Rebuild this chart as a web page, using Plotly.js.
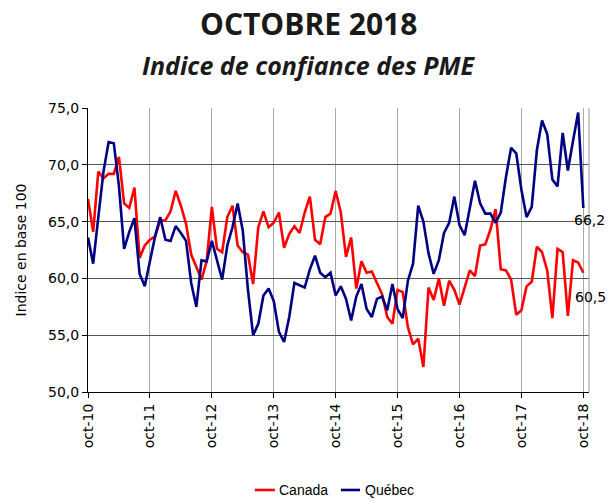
<!DOCTYPE html>
<html><head><meta charset="utf-8">
<script src="https://cdn.plot.ly/plotly-3.0.1.min.js"></script>
<style>html,body{margin:0;padding:0;background:#fff}#chart{width:610px;height:502px}</style>
</head><body><div id="chart"></div>
<script>
// Monthly index, oct-2010 .. oct-2018 (97 months)
const tickLabels = ["oct-10","oct-11","oct-12","oct-13","oct-14","oct-15","oct-16","oct-17","oct-18"];
const seriesNames = ["Canada", "Québec"];
const canada = [
67.0,64.1,69.4,68.8,69.2,69.2,70.7,66.6,66.2,68.0,61.8,62.9,
63.4,63.7,65.1,65.1,65.9,67.7,66.4,64.8,62.1,61.0,59.9,61.5,
66.3,62.6,62.3,65.4,66.4,62.9,62.3,62.1,59.5,64.5,65.9,64.5,
64.9,65.8,62.7,63.9,64.6,64.0,65.8,67.2,63.4,63.0,65.4,65.7,
67.7,65.8,61.9,63.6,59.1,61.5,60.5,60.6,59.6,58.6,56.6,56.0,
59.0,58.8,55.7,54.2,54.7,52.2,59.2,58.1,60.0,57.6,59.8,59.0,
57.7,59.3,60.7,60.2,62.9,63.0,64.3,66.1,60.8,60.7,59.9,56.8,
57.2,59.3,59.7,62.8,62.3,60.7,56.5,62.6,62.3,56.7,61.6,61.4,
60.5];
const quebec = [
63.6,61.3,65.4,69.4,72.0,71.9,68.1,62.6,64.1,65.3,60.4,59.3,
61.5,63.7,65.4,63.4,63.3,64.6,64.0,63.3,59.6,57.5,61.6,61.5,
63.3,61.6,59.9,62.9,64.5,66.6,64.2,59.0,55.0,56.0,58.5,59.1,
58.0,55.3,54.4,56.6,59.6,59.4,59.2,60.8,62.0,60.5,60.1,60.5,
58.5,59.3,58.2,56.3,58.4,59.5,57.3,56.6,58.2,58.4,57.2,59.5,
57.3,56.5,59.8,61.3,66.4,65.0,62.2,60.4,61.6,64.0,64.9,67.2,
64.7,63.8,66.1,68.6,66.6,65.7,65.7,64.9,65.8,68.9,71.5,71.0,
67.8,65.4,66.3,71.3,73.9,72.7,68.7,68.1,72.8,69.5,72.1,74.6,
66.2];
const months = canada.map((_, i) => i);
const tickVals = tickLabels.map((_, k) => k * 12);
const last = canada.length - 1;
const colors = ["#ff0000", "#000080"];

const font = "DejaVu Sans, Verdana, sans-serif";
const legFont = "Liberation Sans, Arial, sans-serif";
const traces = [
  {x: months, y: canada, name: seriesNames[0], type: "scatter", mode: "lines",
   line: {color: colors[0], width: 2.6}},
  {x: months, y: quebec, name: seriesNames[1], type: "scatter", mode: "lines",
   line: {color: colors[1], width: 2.6}}
];
const legY = -0.345;
const layout = {
  width: 610, height: 502,
  margin: {l: 88, r: 21, t: 108, b: 110},
  paper_bgcolor: "#fff", plot_bgcolor: "#fff",
  separators: ", ",
  showlegend: false,
  xaxis: {range: [0, 97.1], tickmode: "array", tickvals: tickVals, ticktext: tickLabels,
          tickangle: -90, ticks: "outside", ticklen: 5, tickcolor: "#000",
          showline: true, linecolor: "#000", linewidth: 1,
          showgrid: true, gridcolor: "#aaaaaa", gridwidth: 1, zeroline: false,
          tickfont: {family: font, size: 14, color: "#000"}},
  yaxis: {range: [50, 75], dtick: 5, tick0: 50, tickformat: ".1f",
          ticks: "outside", ticklen: 5, tickcolor: "#000",
          showline: true, linecolor: "#000", linewidth: 1,
          showgrid: true, gridcolor: "#555", gridwidth: 1, zeroline: false,
          tickfont: {family: font, size: 14, color: "#000"},
          title: {text: "Indice en base 100", font: {family: font, size: 14, color: "#000"}, standoff: 18}},
  shapes: [
    {type: "line", xref: "paper", yref: "paper", x0: 1, x1: 1, y0: 0, y1: 1,
     line: {color: "#999", width: 1}},
    {type: "line", xref: "paper", yref: "paper", x0: 0.333, x1: 0.373, y0: legY, y1: legY,
     line: {color: colors[0], width: 2.6}},
    {type: "line", xref: "paper", yref: "paper", x0: 0.505, x1: 0.543, y0: legY, y1: legY,
     line: {color: colors[1], width: 2.6}}
  ],
  annotations: [
    {text: "<b>OCTOBRE 2018</b>", xref: "paper", yref: "paper", x: 0.44, y: 1,
     xanchor: "center", yanchor: "middle", yshift: 85, showarrow: false,
     font: {family: "Open Sans, sans-serif", size: 30, color: "#1a1a1a"}},
    {text: "<b><i>Indice de confiance des PME</i></b>", xref: "paper", yref: "paper", x: 0.44, y: 1,
     xanchor: "center", yanchor: "middle", yshift: 43, showarrow: false,
     font: {family: "Open Sans, sans-serif", size: 25, color: "#1a1a1a"}},
    {text: seriesNames[0], xref: "paper", yref: "paper", x: 0.378, y: legY,
     xanchor: "left", yanchor: "middle", showarrow: false,
     font: {family: legFont, size: 14, color: "#000"}},
    {text: seriesNames[1], xref: "paper", yref: "paper", x: 0.548, y: legY,
     xanchor: "left", yanchor: "middle", showarrow: false,
     font: {family: legFont, size: 14, color: "#000"}},
    {text: quebec[last].toFixed(1).replace(".", ","), x: months[last], y: quebec[last],
     xanchor: "center", yanchor: "middle", xshift: 6, yshift: -12, showarrow: false,
     font: {family: font, size: 14, color: "#000"}},
    {text: canada[last].toFixed(1).replace(".", ","), x: months[last], y: canada[last],
     xanchor: "center", yanchor: "middle", xshift: 7, yshift: -24, showarrow: false,
     font: {family: font, size: 14, color: "#000"}}
  ]
};
Plotly.newPlot("chart", traces, layout, {displayModeBar: false, staticPlot: true});
</script></body></html>
